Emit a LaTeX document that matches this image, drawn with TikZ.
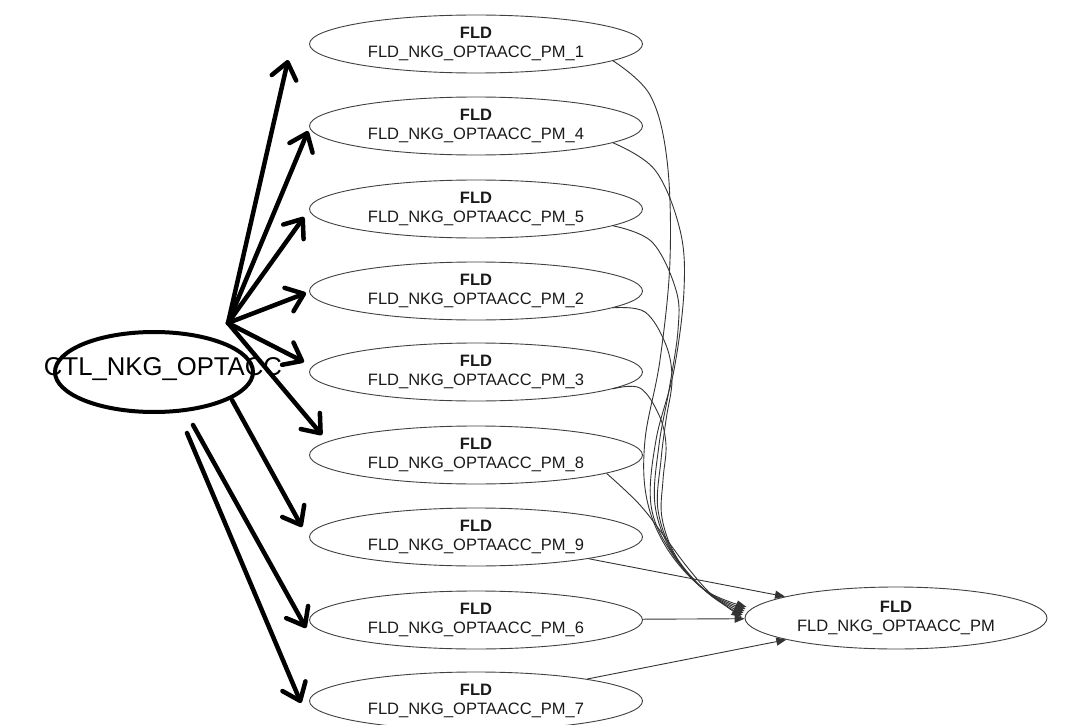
\documentclass[tikz,border=0pt]{standalone}
\usepackage{fontspec}
\setmainfont{Liberation Sans}
\usetikzlibrary{shapes.geometric,arrows.meta,calc}
\definecolor{edgegray}{HTML}{333333}
\definecolor{linegray}{HTML}{404040}
\definecolor{txt}{HTML}{1A1A1A}
\tikzset{
  fld/.style={ellipse, draw=linegray, line width=0.9pt, minimum width=333pt, minimum height=58pt,
    inner sep=0pt, align=center, text=txt, font=\fontsize{16.5}{18.5}\selectfont},
  ctlbox/.style={ellipse, draw=black, line width=4pt, minimum width=198pt, minimum height=80pt, inner sep=0pt},
  bigarrow/.style={draw=black, line width=4.5pt, line cap=round,
    -{Straight Barb[length=16pt,width=25pt,round]}},
  thinedge/.style={draw=edgegray, line width=0.9pt, -{Triangle[length=10pt,width=8pt]}},
  bundle/.style={thinedge, smooth, tension=0.6}
}
\begin{document}
\begin{tikzpicture}[x=1pt,y=-1pt]
\useasboundingbox[fill=white] (0,0) rectangle (1080,725);

% middle column
\node[fld] (n1) at (476,44)  {\textbf{FLD}\\FLD\_NKG\_OPTAACC\_PM\_1};
\node[fld] (n4) at (476,126) {\textbf{FLD}\\FLD\_NKG\_OPTAACC\_PM\_4};
\node[fld] (n5) at (476,209) {\textbf{FLD}\\FLD\_NKG\_OPTAACC\_PM\_5};
\node[fld] (n2) at (476,291) {\textbf{FLD}\\FLD\_NKG\_OPTAACC\_PM\_2};
\node[fld] (n3) at (476,372) {\textbf{FLD}\\FLD\_NKG\_OPTAACC\_PM\_3};
\node[fld] (n8) at (476,455) {\textbf{FLD}\\FLD\_NKG\_OPTAACC\_PM\_8};
\node[fld] (n9) at (476,537) {\textbf{FLD}\\FLD\_NKG\_OPTAACC\_PM\_9};
\node[fld] (n6) at (476,620) {\textbf{FLD}\\FLD\_NKG\_OPTAACC\_PM\_6};
\node[fld] (n7) at (476,701) {\textbf{FLD}\\FLD\_NKG\_OPTAACC\_PM\_7};

% target
\node[fld, minimum width=302pt, minimum height=62pt] (t) at (896,618) {\textbf{FLD}\\FLD\_NKG\_OPTAACC\_PM};

% source
\node[ctlbox] (ctl) at (154,372) {};
\node[font=\fontsize{25.7}{28}\selectfont, inner sep=0pt] (ctllabel) at (163,369) {CTL\_NKG\_OPTACC};

% thick hand-drawn arrows
\coordinate (fan) at (228,323);
\coordinate (s9) at (232,400);
\coordinate (s6) at (193,425);
\coordinate (s7) at (187,433);
\draw[bigarrow] (fan) -- ($(n1.west)+(-21,16)$);
\draw[bigarrow] (fan) -- ($(n4.west)+(-1,5)$);
\draw[bigarrow] (fan) -- ($(n5.west)+(-5,8)$);
\draw[bigarrow] (fan) -- ($(n2.west)+(-3,2)$);
\draw[bigarrow] (fan) -- ($(n3.west)+(-5,-10)$);
\draw[bigarrow] (fan) -- ($(n8.west)+(13,-20)$);
\draw[bigarrow] (s9) -- ($(n9.west)+(-7,-10)$);
\draw[bigarrow] (s6) -- ($(n6.west)+(-3,8)$);
\draw[bigarrow] (s7) -- ($(n7.west)+(-8,2)$);

% thin edges into target
\draw[bundle] plot coordinates {(n1.-7) (650,95) (667,160) (670,260) (660,360) (645,440) (647,500) (668,550) (705,590) ($(t.west)+(2,-11)$)};
\draw[bundle] plot coordinates {(n4.-7) (655,170) (680,230) (684,290) (674,370) (656,440) (651,505) (671,552) (706,591) ($(t.west)+(1,-9)$)};
\draw[bundle] plot coordinates {(n5.-7) (652,242) (676,290) (678,330) (669,390) (659,445) (655,505) (673,554) (707,592) ($(t.west)+(0,-7)$)};
\draw[bundle] plot coordinates {(n2.-7) (645,312) (666,345) (672,380) (666,420) (661,460) (658,510) (675,556) (708,593) ($(t.west)+(-1,-5)$)};
\draw[bundle] plot coordinates {(n3.-7) (640,388) (659,415) (666,445) (663,480) (662,518) (677,558) (709,594) ($(t.west)+(-2,-3)$)};
\draw[bundle] plot coordinates {(n8.-8) (640,505) (667,540) (688,568) (712,595) ($(t.west)+(-3,-1)$)};
\draw[thinedge] (n9) -- (t);
\draw[thinedge] (n6) -- (t);
\draw[thinedge] (n7) -- (t);
\end{tikzpicture}
\end{document}
